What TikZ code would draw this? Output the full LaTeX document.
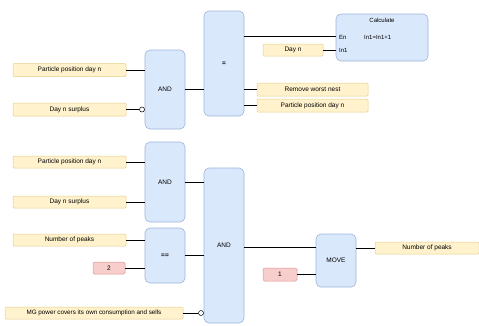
\documentclass[tikz,border=0pt]{standalone}
\usepackage{fontspec}
\setmainfont{Liberation Sans}
\begin{document}
\begin{tikzpicture}[x=1pt,y=-1pt,
  lbl/.style={draw=yellowb,fill=yellowf,line width=0.5pt,rounded corners=1pt,inner sep=0pt,font=\fontsize{6.5}{7}\selectfont},
  cst/.style={draw=pinkb,fill=pinkf,line width=0.5pt,rounded corners=1.5pt,inner sep=0pt,font=\fontsize{6.5}{7}\selectfont},
  blk/.style={draw=blueb,fill=bluef,line width=0.6pt,rounded corners=5pt,inner sep=0pt,font=\fontsize{6.5}{7}\selectfont},
  wire/.style={line width=1pt,black},
  neg/.style={draw=black,fill=white,line width=0.5pt,circle,inner sep=0pt,minimum size=5pt}]
\definecolor{yellowf}{HTML}{FFF2CC}
\definecolor{yellowb}{HTML}{E6CF8A}
\definecolor{pinkf}{HTML}{F8CECC}
\definecolor{pinkb}{HTML}{D9908C}
\definecolor{bluef}{HTML}{DAE8FC}
\definecolor{blueb}{HTML}{9DB4D8}
\useasboundingbox (0,0) rectangle (479,325);
% top section
\node[lbl,minimum width=113pt,minimum height=13pt] (L1) at (69.5,70) {Particle position day n};
\node[lbl,minimum width=113pt,minimum height=13pt] (L2) at (69.5,109.5) {Day n surplus};
\node[blk,minimum width=40pt,minimum height=79pt] (AND1) at (165,89.5) {AND};
\node[blk,minimum width=40pt,minimum height=105pt] (B2) at (224,63.5) {\textbf{=}};
\node[blk,minimum width=92pt,minimum height=47pt] (Calc) at (382,37.5) {};
\node[font=\fontsize{6}{7}\selectfont] (CalcT) at (382,20) {Calculate};
\node[font=\fontsize{6}{7}\selectfont,anchor=west,inner sep=0pt] (CalcEn) at (339,37) {En};
\node[font=\fontsize{6}{7}\selectfont,anchor=west,inner sep=0pt] (CalcIn) at (339,50) {In1};
\node[font=\fontsize{6}{7}\selectfont,anchor=west,inner sep=0pt] (CalcF) at (364,37) {In1=In1+1};
\node[lbl,minimum width=60pt,minimum height=12pt] (DayN) at (293,50) {Day n};
\node[lbl,minimum width=111pt,minimum height=13pt] (RW) at (312.5,89.5) {Remove worst nest};
\node[lbl,minimum width=111pt,minimum height=13pt] (PP2) at (312.5,105.5) {Particle position day n};
\coordinate (EnIn) at (336,36);
\coordinate (In1In) at (336,50);
\node[neg] (C1) at (142,109.5) {};
\draw[wire] (L1.east) -- (L1.east -| AND1.west);
\draw[wire] (L2.east) -- (C1.west);
\draw[wire] (AND1.east) -- (AND1.east -| B2.west);
\draw[wire] (EnIn -| B2.east) -- (EnIn);
\draw[wire] (DayN.east) -- (In1In);
\draw[wire] (RW.west -| B2.east) -- (RW.west);
\draw[wire] (PP2.west -| B2.east) -- (PP2.west);
% bottom section
\node[lbl,minimum width=113pt,minimum height=12pt] (L3) at (69.5,162) {Particle position day n};
\node[lbl,minimum width=113pt,minimum height=12pt] (L4) at (69.5,202) {Day n surplus};
\node[blk,minimum width=40pt,minimum height=80pt] (AND3) at (165,182) {AND};
\node[blk,minimum width=40pt,minimum height=55pt] (EQ) at (165,255.5) {\textbf{==}};
\node[lbl,minimum width=113pt,minimum height=12pt] (NP) at (69.5,240) {Number of peaks};
\node[cst,minimum width=32pt,minimum height=12pt] (Two) at (109,268) {2};
\node[lbl,minimum width=178pt,minimum height=12pt,font=\fontsize{6.3}{7}\selectfont] (MG) at (94,313) {MG power covers its own consumption and sells};
\node[blk,minimum width=40pt,minimum height=155pt] (AND4) at (224,245.5) {AND};
\node[blk,minimum width=40pt,minimum height=53pt] (MOVE) at (336,260.5) {MOVE};
\node[cst,minimum width=34pt,minimum height=13pt] (One) at (280,274.5) {1};
\node[lbl,minimum width=104pt,minimum height=12pt] (NP2) at (427,248) {Number of peaks};
\node[neg] (C2) at (201,313) {};
\coordinate (MoveIn) at (316,247);
\draw[wire] (L3.east) -- (L3.east -| AND3.west);
\draw[wire] (L4.east) -- (L4.east -| AND3.west);
\draw[wire] (AND3.east) -- (AND3.east -| AND4.west);
\draw[wire] (NP.east) -- (NP.east -| EQ.west);
\draw[wire] (Two.east) -- (Two.east -| EQ.west);
\draw[wire] (EQ.east) -- (EQ.east -| AND4.west);
\draw[wire] (MG.east) -- (C2.west);
\draw[wire] (MoveIn -| AND4.east) -- (MoveIn);
\draw[wire] (One.east) -- (One.east -| MOVE.west);
\draw[wire] (NP2.west -| MOVE.east) -- (NP2.west);
\end{tikzpicture}
\end{document}
